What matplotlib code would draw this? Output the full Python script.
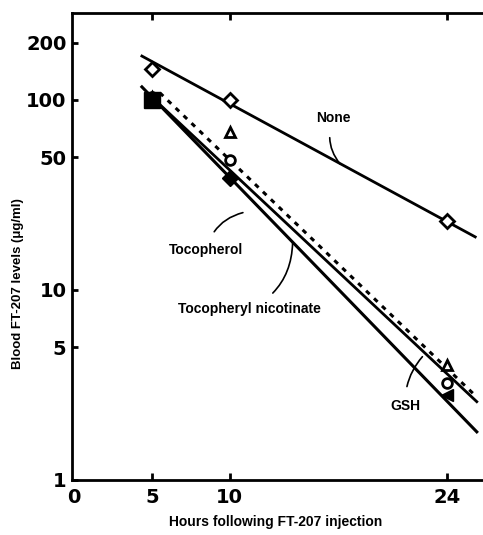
import numpy as np
import matplotlib
matplotlib.use("Agg")
import matplotlib.pyplot as plt

# ---------- data ----------
hours = [5, 10, 24]

none_vals = [146, 100, 23]
toco_vals = [100, 39, 2.8]          # filled markers
nico_vals = [104, 68, 4.0]          # open triangles
gsh_vals = [103, 48, 3.25]          # open circles

# regression lines (start / end hour, start / end level)
none_line_x = [4.35, 25.8]
none_line_y = [170, 19.0]
low_line_x = [4.35, 25.9]
low_line_y = [117, 1.79]
mid_line_x = [4.85, 25.9]
mid_line_y = [106, 2.58]
dash_line_x = [5.5, 25.9]
dash_line_y = [109, 2.73]

yticks = [1, 5, 10, 50, 100, 200]
xticks = [0, 5, 10, 24]

# ---------- figure ----------
fig = plt.figure(figsize=(4.83, 5.35), dpi=100)
ax = fig.add_axes([0.149, 0.103, 0.851, 0.873])
plt.rcParams['font.family'] = ['DejaVu Sans']
lab_font = ['Liberation Sans Narrow', 'Liberation Sans', 'DejaVu Sans']

ax.set_yscale('log')
ax.set_ylim(1, 287)
ax.set_xlim(-0.15, 26.3)

# lines
ax.plot(none_line_x, none_line_y, color='black', lw=2.0)
ax.plot(low_line_x, low_line_y, color='black', lw=2.2)
ax.plot(mid_line_x, mid_line_y, color='black', lw=2.0)
ax.plot(dash_line_x, dash_line_y, color='black', lw=2.2, linestyle=(0, (1.6, 2.0)))

# points
ax.plot(hours, none_vals, 'D', ms=7, mfc='white', mec='black', mew=2)
ax.plot(hours, nico_vals, '^', ms=7, mfc='white', mec='black', mew=2)
ax.plot(hours, gsh_vals, 'o', ms=7, mfc='white', mec='black', mew=2)
ax.plot(hours[0], toco_vals[0], 's', ms=11, color='black')
ax.plot(hours[1], toco_vals[1], 'D', ms=8, color='black')
ax.plot(hours[2], toco_vals[2], '<', ms=9, color='black')

# axes styling
ax.spines['right'].set_visible(False)
for s in ['left', 'top', 'bottom']:
    ax.spines[s].set_linewidth(2.0)
ax.set_yticks(yticks)
ax.set_yticklabels([str(v) for v in yticks])
ax.yaxis.set_minor_locator(matplotlib.ticker.NullLocator())
ax.set_xticks(xticks)
ax.set_xticklabels([str(v) for v in xticks])
ax.tick_params(axis='y', direction='in', length=4, width=2, labelsize=14, pad=4)
ax.tick_params(axis='x', direction='in', length=5, width=2, labelsize=14, pad=6,
               top=True)
for t in ax.get_xticklabels() + ax.get_yticklabels():
    t.set_fontweight('bold')
ax.xaxis.get_major_ticks()[0].tick1line.set_visible(False)
ax.xaxis.get_major_ticks()[0].tick2line.set_visible(False)

# labels with leader lines
def label(text, xy, xytext, rad):
    ax.annotate(text, xy=xy, xytext=xytext, textcoords='data',
                ha='center', va='center', fontsize=10, fontweight='bold',
                family=lab_font,
                arrowprops=dict(arrowstyle='-', lw=1.2, color='black',
                                connectionstyle='arc3,rad=%s' % rad,
                                shrinkA=7, shrinkB=0))

label('None', (17.1, 46), (16.7, 80), 0.3)
label('Tocopherol', (10.85, 25.5), (8.5, 16.2), -0.3)
label('Tocopheryl nicotinate', (14.05, 17.7), (11.3, 7.9), 0.3)
label('GSH', (22.4, 4.45), (21.3, 2.45), -0.2)

fig.text(18 / 483, 1 - 284 / 535, 'Blood FT-207 levels (\u03bcg/ml)', rotation=90,
         ha='center', va='center', fontsize=9.5, fontweight='bold', family=lab_font)
fig.text(276 / 483, 1 - 522 / 535, 'Hours following FT-207 injection',
         ha='center', va='center', fontsize=10, fontweight='bold', family=lab_font)

fig.savefig('out.png', dpi=100)
